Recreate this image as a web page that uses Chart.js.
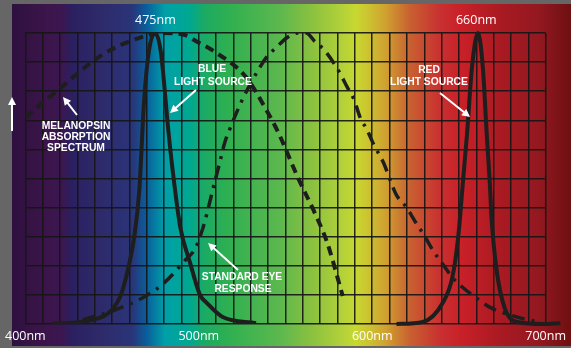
<!DOCTYPE html>
<html>
<head>
<meta charset="utf-8">
<script src="https://cdn.jsdelivr.net/npm/chart.js@4.4.0/dist/chart.umd.min.js"></script>
<style>
  body { margin: 0; background: #666666; }
  #spectrum { display: block; }
</style>
</head>
<body>
<canvas id="spectrum" width="571" height="348"></canvas>
<script>
// wavelength (nm) / relative response (0-100)
var melanopsinNm  = [400, 420, 444, 467, 479, 492, 499, 508, 527, 539, 546, 557, 567, 574, 583];
var melanopsinVal = [71, 81, 92.4, 98.6, 100, 99.3, 97, 94, 85, 73.5, 65.6, 50.5, 38, 28, 9.6];

var blueNm  = [415, 438.5, 449.8, 455.5, 460, 462.8, 465.7, 468.5, 471.3, 474.7, 478, 482.6, 484.9, 489.4, 495, 500.7, 504.7, 513.8, 533];
var blueVal = [0, 1.4, 4.8, 10.7, 21, 30, 46, 77, 94, 100, 94, 65.6, 53, 33, 21, 10, 7.2, 2.4, 0.3];

var redNm  = [614, 629.2, 640.6, 646.2, 649.6, 652.4, 654.7, 657.5, 661, 663.8, 666, 667.7, 668.9, 671.7, 676.2, 683.6, 698.8, 708.5];
var redVal = [0, 0.7, 7.2, 16, 30, 49.5, 65.6, 88, 100, 88, 65.6, 49.5, 35.7, 18.6, 5.8, 0.7, 0, 0.3];

var eyeNm  = [433, 451.5, 468.5, 479.8, 492.3, 498, 502, 504.7, 508, 512, 514.9, 517.7, 524.5, 533.6, 539.2, 545, 550.6, 557.3, 561.9, 567, 572.6, 581, 585.6, 589.6, 593, 597, 601, 606.6, 610, 614, 619.6, 625.3, 629.8, 634.9, 641, 646.2, 651.9, 659.2, 667.7, 674.5, 685.8, 696];
var eyeVal = [1.4, 4.8, 9.3, 14, 22, 26, 32.3, 38, 46, 55.3, 62.2, 66.7, 76.3, 86.6, 91.8, 95.2, 98.3, 100, 100, 97, 94, 86.6, 81.4, 77, 71, 66.7, 61.5, 55.3, 50, 44.3, 40.2, 34.7, 30.6, 25.4, 20.3, 16, 12.7, 9.3, 5.8, 4.1, 2, 0.7];

var axisTicks = [400, 500, 600, 700];
var peakTicks = [475, 660];

function pts(xs, ys) {
  return xs.map(function (x, i) { return { x: x, y: ys[i] }; });
}

// spectrum backdrop behind everything
var backdrop = {
  id: 'backdrop',
  beforeDraw: function (chart) {
    var ctx = chart.ctx;
    ctx.save();
    ctx.fillStyle = '#666666';
    ctx.fillRect(0, 0, chart.width, chart.height);
    var g = ctx.createLinearGradient(12, 0, 571, 0);
    var stops = [
      [12, '#2e1040'], [40, '#3a1448'], [62, '#3c1650'], [72, '#2a2060'],
      [100, '#2e2a6a'], [132, '#2a3478'], [146, '#0a5c9a'], [165, '#00a0a8'],
      [190, '#00a890'], [205, '#1caa62'], [230, '#30b050'], [280, '#5cb84e'],
      [310, '#88c040'], [340, '#b0d03a'], [356, '#c8d830'], [370, '#ccc030'],
      [386, '#d0a030'], [410, '#c86030'], [440, '#c83030'], [462, '#c82028'],
      [500, '#aa1a22'], [540, '#921820'], [571, '#6e1010']
    ];
    stops.forEach(function (s) { g.addColorStop((s[0] - 12) / 559, s[1]); });
    ctx.fillStyle = g;
    ctx.fillRect(12, 4, 559, 342);
    ctx.restore();
  }
};

function arrow(ctx, x1, y1, x2, y2) {
  var a = Math.atan2(y2 - y1, x2 - x1);
  var h = 8;
  ctx.beginPath();
  ctx.moveTo(x1, y1);
  ctx.lineTo(x2 - Math.cos(a) * h * 0.8, y2 - Math.sin(a) * h * 0.8);
  ctx.stroke();
  ctx.beginPath();
  ctx.moveTo(x2, y2);
  ctx.lineTo(x2 - h * Math.cos(a) + 4 * Math.sin(a), y2 - h * Math.sin(a) - 4 * Math.cos(a));
  ctx.lineTo(x2 - h * Math.cos(a) - 4 * Math.sin(a), y2 - h * Math.sin(a) + 4 * Math.cos(a));
  ctx.closePath();
  ctx.fill();
}

var notes = {
  id: 'notes',
  afterDatasetsDraw: function (chart) {
    var ctx = chart.ctx;
    ctx.save();
    ctx.fillStyle = '#ffffff';
    ctx.strokeStyle = '#ffffff';
    ctx.lineWidth = 2;
    ctx.font = 'bold 10.3px "Liberation Sans", Arial, sans-serif';
    ctx.textAlign = 'center';
    ctx.textBaseline = 'middle';
    var texts = [
      ['MELANOPSIN', 76, 126], ['ABSORPTION', 76, 137], ['SPECTRUM', 76, 148],
      ['BLUE', 212, 69], ['LIGHT SOURCE', 213, 82],
      ['RED', 429, 70], ['LIGHT SOURCE', 429, 82],
      ['STANDARD EYE', 242, 277], ['RESPONSE', 243, 289]
    ];
    texts.forEach(function (t) { ctx.fillText(t[0], t[1], t[2]); });
    arrow(ctx, 77, 115, 63, 97);
    arrow(ctx, 196, 90, 170, 113);
    arrow(ctx, 440, 93, 470, 117);
    arrow(ctx, 238, 270, 208, 243);
    arrow(ctx, 12, 131, 12, 97);
    ctx.restore();
  }
};

var ink = '#1e1e1e';

new Chart(document.getElementById('spectrum'), {
  type: 'line',
  data: {
    datasets: [
      { label: 'Melanopsin absorption spectrum', data: pts(melanopsinNm, melanopsinVal),
        borderColor: ink, borderWidth: 4, borderDash: [9, 6], cubicInterpolationMode: 'monotone' },
      { label: 'Standard eye response', data: pts(eyeNm, eyeVal),
        borderColor: ink, borderWidth: 3.5, borderDash: [13, 7, 3, 7], cubicInterpolationMode: 'monotone' },
      { label: 'Blue light source', data: pts(blueNm, blueVal),
        borderColor: ink, borderWidth: 4, cubicInterpolationMode: 'monotone' },
      { label: 'Red light source', data: pts(redNm, redVal),
        borderColor: ink, borderWidth: 4, cubicInterpolationMode: 'monotone', clip: false }
    ]
  },
  options: {
    responsive: false,
    animation: false,
    devicePixelRatio: 1,
    pointRadius: 0,
    elements: { point: { radius: 0 } },
    layout: { padding: { left: 22, right: 19, top: 0, bottom: 0 } },
    plugins: { legend: { display: false }, tooltip: { enabled: false } },
    scales: {
      x: {
        type: 'linear', position: 'bottom', min: 400, max: 700,
        afterFit: function (axis) { axis.height = 24; },
        border: { display: false },
        grid: { color: 'rgba(22,22,22,0.92)', lineWidth: 1.5, drawTicks: false },
        ticks: {
          stepSize: 10, autoSkip: false, maxRotation: 0, padding: 5,
          color: '#ffffff', font: { size: 12.5, family: '"Open Sans", "Liberation Sans", sans-serif' },
          callback: function (v) { return axisTicks.indexOf(v) >= 0 ? v + 'nm' : ''; }
        }
      },
      top: {
        type: 'linear', position: 'top', min: 400, max: 700,
        afterFit: function (axis) { axis.height = 33; },
        afterBuildTicks: function (axis) { axis.ticks = peakTicks.map(function (v) { return { value: v }; }); },
        border: { display: false },
        grid: { display: false, drawTicks: false },
        ticks: {
          autoSkip: false, maxRotation: 0, padding: 5,
          color: '#ffffff', font: { size: 12.5, family: '"Open Sans", "Liberation Sans", sans-serif' },
          callback: function (v) { return v + 'nm'; }
        }
      },
      y: {
        min: 0, max: 100,
        afterFit: function (axis) { axis.width = 0; },
        border: { display: false },
        grid: { color: 'rgba(22,22,22,0.92)', lineWidth: 1.5, drawTicks: false },
        ticks: { stepSize: 10, display: false }
      }
    }
  },
  plugins: [backdrop, notes]
});
</script>
</body>
</html>
